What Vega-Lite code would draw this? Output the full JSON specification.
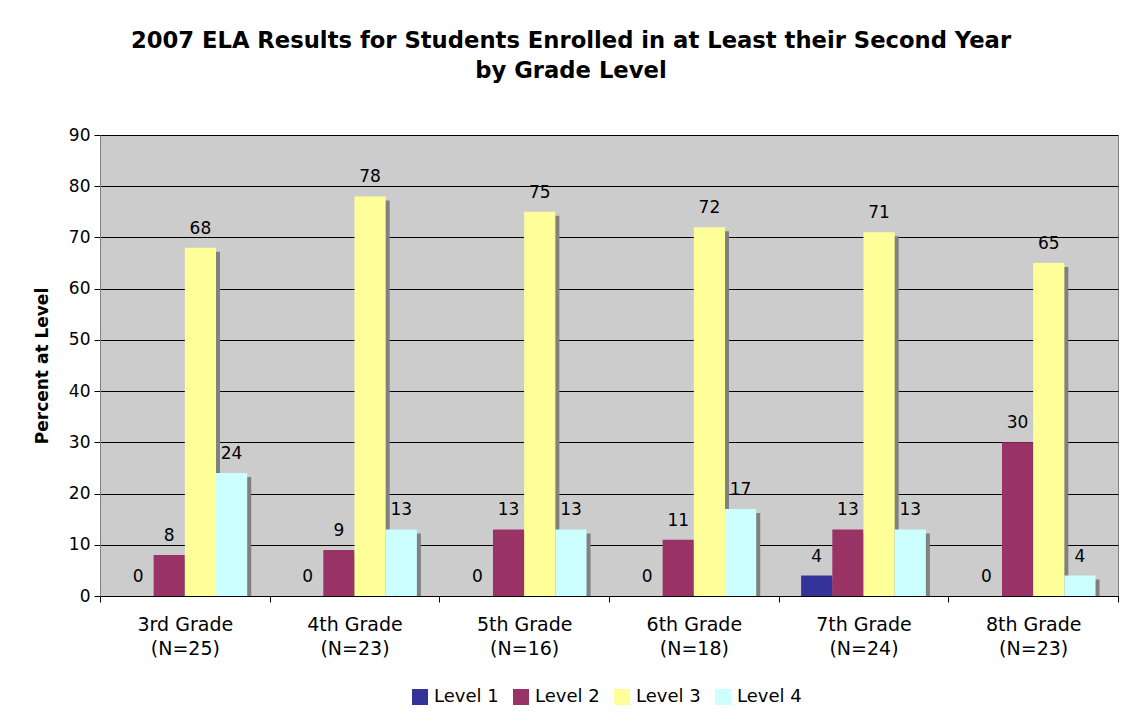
{
  "$schema": "https://vega.github.io/schema/vega-lite/v6.json",
  "autosize": {"type": "none"},
  "width": 1018,
  "height": 461,
  "padding": {"left": 100, "top": 135, "right": 18, "bottom": 119},
  "background": "white",
  "config": {
    "font": "DejaVu Sans",
    "view": {"fill": "#CCCCCC", "stroke": "#808080", "strokeWidth": 1}
  },
  "title": {
    "text": ["2007 ELA Results for Students Enrolled in at Least their Second Year", "by Grade Level"],
    "font": "DejaVu Sans",
    "fontSize": 22.7,
    "fontWeight": "bold",
    "color": "#000000",
    "lineHeight": 30,
    "anchor": "middle",
    "dx": -38,
    "offset": 43
  },
  "data": {
    "values": [
      {"grade": "3rd Grade|(N=25)", "level": "Level 1", "value": 0},
      {"grade": "3rd Grade|(N=25)", "level": "Level 2", "value": 8},
      {"grade": "3rd Grade|(N=25)", "level": "Level 3", "value": 68},
      {"grade": "3rd Grade|(N=25)", "level": "Level 4", "value": 24},
      {"grade": "4th Grade|(N=23)", "level": "Level 1", "value": 0},
      {"grade": "4th Grade|(N=23)", "level": "Level 2", "value": 9},
      {"grade": "4th Grade|(N=23)", "level": "Level 3", "value": 78},
      {"grade": "4th Grade|(N=23)", "level": "Level 4", "value": 13},
      {"grade": "5th Grade|(N=16)", "level": "Level 1", "value": 0},
      {"grade": "5th Grade|(N=16)", "level": "Level 2", "value": 13},
      {"grade": "5th Grade|(N=16)", "level": "Level 3", "value": 75},
      {"grade": "5th Grade|(N=16)", "level": "Level 4", "value": 13},
      {"grade": "6th Grade|(N=18)", "level": "Level 1", "value": 0},
      {"grade": "6th Grade|(N=18)", "level": "Level 2", "value": 11},
      {"grade": "6th Grade|(N=18)", "level": "Level 3", "value": 72},
      {"grade": "6th Grade|(N=18)", "level": "Level 4", "value": 17},
      {"grade": "7th Grade|(N=24)", "level": "Level 1", "value": 4},
      {"grade": "7th Grade|(N=24)", "level": "Level 2", "value": 13},
      {"grade": "7th Grade|(N=24)", "level": "Level 3", "value": 71},
      {"grade": "7th Grade|(N=24)", "level": "Level 4", "value": 13},
      {"grade": "8th Grade|(N=23)", "level": "Level 1", "value": 0},
      {"grade": "8th Grade|(N=23)", "level": "Level 2", "value": 30},
      {"grade": "8th Grade|(N=23)", "level": "Level 3", "value": 65},
      {"grade": "8th Grade|(N=23)", "level": "Level 4", "value": 4}
    ]
  },
  "encoding": {
    "x": {
      "field": "grade",
      "type": "nominal",
      "sort": null,
      "scale": {"paddingInner": 0, "paddingOuter": 0},
      "axis": {
        "title": null,
        "labelAngle": 0,
        "labelExpr": "split(datum.label, '|')",
        "labelFontSize": 19,
        "labelColor": "#000000",
        "labelLineHeight": 24,
        "labelPadding": 13,
        "tickBand": "extent",
        "tickSize": 6,
        "tickColor": "#000000",
        "domainColor": "#000000",
        "grid": false
      }
    },
    "y": {
      "field": "value",
      "type": "quantitative",
      "scale": {"domain": [0, 90], "nice": false},
      "axis": {
        "title": "Percent at Level",
        "titleFontSize": 17,
        "titleFontWeight": "bold",
        "titleColor": "#000000",
        "titlePadding": 17,
        "values": [0, 10, 20, 30, 40, 50, 60, 70, 80, 90],
        "labelFontSize": 17,
        "labelColor": "#000000",
        "labelPadding": 4,
        "tickSize": 6,
        "tickColor": "#000000",
        "domainColor": "#808080",
        "grid": true,
        "gridColor": "#000000",
        "gridOpacity": 1,
        "gridWidth": 1
      }
    }
  },
  "resolve": {"scale": {"xOffset": "independent"}},
  "layer": [
    {
      "transform": [{"filter": "datum.value > 0"}],
      "mark": {"type": "bar", "color": "#808080", "yOffset": 4, "y2Offset": 0},
      "encoding": {
        "y2": {"datum": 0},
        "xOffset": {
          "field": "level",
          "type": "nominal",
          "scale": {"type": "band", "domain": ["Level 1", "Level 2", "Level 3", "Level 4"], "range": [4, 173.667], "paddingInner": 0, "paddingOuter": 0.72}
        }
      }
    },
    {
      "mark": {"type": "bar"},
      "encoding": {
        "xOffset": {
          "field": "level",
          "type": "nominal",
          "scale": {"type": "band", "domain": ["Level 1", "Level 2", "Level 3", "Level 4"], "paddingInner": 0, "paddingOuter": 0.72}
        },
        "color": {
          "field": "level",
          "type": "nominal",
          "scale": {
            "domain": ["Level 1", "Level 2", "Level 3", "Level 4"],
            "range": ["#333399", "#993366", "#FFFF99", "#CCFFFF"]
          },
          "legend": {
            "title": null,
            "orient": "none",
            "legendX": 311,
            "legendY": 553,
            "direction": "horizontal",
            "symbolType": "square",
            "symbolSize": 256,
            "symbolStrokeWidth": 0,
            "labelFontSize": 18,
            "labelColor": "#000000",
            "labelOffset": 5,
            "columnPadding": 13
          }
        }
      }
    },
    {
      "mark": {"type": "text", "fontSize": 17, "baseline": "alphabetic", "dy": -14, "color": "#000000"},
      "encoding": {
        "xOffset": {
          "field": "level",
          "type": "nominal",
          "scale": {"type": "band", "domain": ["Level 1", "Level 2", "Level 3", "Level 4"], "paddingInner": 0, "paddingOuter": 0.72}
        },
        "text": {"field": "value", "type": "quantitative"}
      }
    }
  ]
}
